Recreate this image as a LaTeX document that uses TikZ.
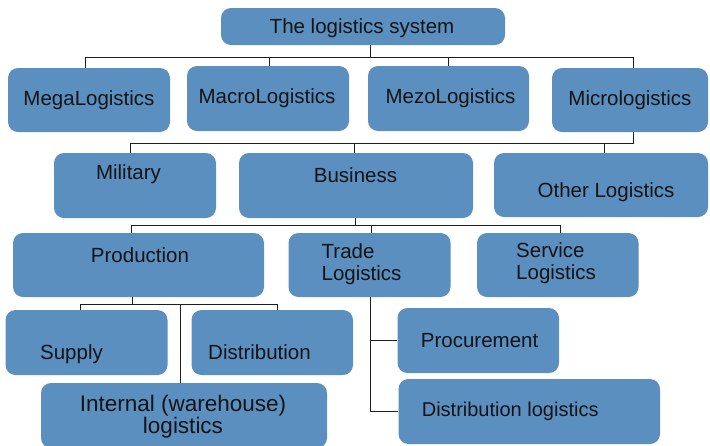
\documentclass[tikz,border=0pt]{standalone}
\usepackage{fontspec}
\setmainfont{Liberation Sans}
\usepackage{xcolor}
\usepackage{tikz}
\definecolor{boxblue}{RGB}{90,143,192}
\definecolor{textdark}{RGB}{20,20,20}
\definecolor{linedark}{RGB}{30,30,30}

\begin{document}
\begin{tikzpicture}[x=1pt,y=-1pt,
	box/.style={rectangle,fill=boxblue,rounded corners=10pt,inner sep=0pt},
	txt/.style={text=textdark,font=\fontsize{20.5}{22}\selectfont,inner sep=0pt,text height=14.5pt,text depth=4.5pt},
	txtm/.style={text=textdark,font=\fontsize{20.5}{22}\selectfont,inner sep=0pt},
	link/.style={draw=linedark,line width=1pt}]
	\useasboundingbox (0,0) rectangle (710,445);
	% the boxes
	\node[box,minimum width=284pt,minimum height=37pt] (System) at (363,26.5) {};
	\node[box,minimum width=162pt,minimum height=64pt] (Mega) at (89,100) {};
	\node[box,minimum width=162pt,minimum height=65pt] (Macro) at (268,98.5) {};
	\node[box,minimum width=161pt,minimum height=65pt] (Mezo) at (448.5,98.5) {};
	\node[box,minimum width=156pt,minimum height=64pt] (Micro) at (630,100) {};
	\node[box,minimum width=162pt,minimum height=65pt] (Military) at (135,185.5) {};
	\node[box,minimum width=234pt,minimum height=65pt] (Business) at (356,185.5) {};
	\node[box,minimum width=214pt,minimum height=64pt] (Other) at (601,185) {};
	\node[box,minimum width=251pt,minimum height=64pt] (Production) at (138.5,265) {};
	\node[box,minimum width=162pt,minimum height=64pt] (Trade) at (369.5,265) {};
	\node[box,minimum width=161.5pt,minimum height=64pt] (Service) at (557.75,265) {};
	\node[box,minimum width=162pt,minimum height=65pt] (Supply) at (86.5,342.5) {};
	\node[box,minimum width=161.5pt,minimum height=65pt] (Distribution) at (272.25,342.5) {};
	\node[box,minimum width=286pt,minimum height=65pt] (Internal) at (184,415.5) {};
	\node[box,minimum width=161.5pt,minimum height=65pt] (Procurement) at (478.25,340.5) {};
	\node[box,minimum width=261.5pt,minimum height=65pt] (DistLog) at (529.25,411.5) {};
	% the texts
	\node[txt] (SystemText) at (362,28) {The logistics system};
	\node[txt] (MegaText) at (89,100) {MegaLogistics};
	\node[txt] (MacroText) at (267,98) {MacroLogistics};
	\node[txt] (MezoText) at (450.5,98) {MezoLogistics};
	\node[txt] (MicroText) at (630,100) {Micrologistics};
	\node[txt] (MilitaryText) at (128.5,174) {Military};
	\node[txt] (BusinessText) at (355.5,177) {Business};
	\node[txt] (OtherText) at (606,192) {Other Logistics};
	\node[txt] (ProductionText) at (140,257) {Production};
	\node[txtm,align=left,anchor=west] (TradeText) at (321.5,264.5) {Trade\\Logistics};
	\node[txtm,align=left,anchor=west] (ServiceText) at (516,263) {Service\\Logistics};
	\node[txt] (SupplyText) at (71.5,354) {Supply};
	\node[txt] (DistributionText) at (259.5,354) {Distribution};
	\node[txtm,align=center,font=\fontsize{22.5}{22.5}\selectfont] (InternalText) at (183,416.5) {Internal (warehouse)\\logistics};
	\node[txt] (ProcurementText) at (479.6,342.7) {Procurement};
	\node[txt,font=\fontsize{20}{22}\selectfont] (DistLogText) at (510.2,411) {Distribution logistics};
	% draw the lines
	\coordinate (BusA) at (0,57);
	\coordinate (BusB) at (0,143);
	\coordinate (BusC) at (0,225);
	\coordinate (BusD) at (0,304);
	\draw[link] ([xshift=7.5]System.south) -- ([xshift=7.5]System.south |- BusA);
	\draw[link] ([xshift=-4]Mega.north) -- ([xshift=-4]Mega.north |- BusA) -- ([xshift=3]Micro.north |- BusA) -- ([xshift=3]Micro.north);
	\draw[link] ([xshift=1.5]Macro.north) -- ([xshift=1.5]Macro.north |- BusA);
	\draw[link] (Mezo.north) -- (Mezo.north |- BusA);
	\draw[link] ([xshift=3]Micro.south) -- ([xshift=3]Micro.south |- BusB) -- ([xshift=-5]Military.north |- BusB) -- ([xshift=-5]Military.north);
	\draw[link] ([xshift=-1.5]Business.north) -- ([xshift=-1.5]Business.north |- BusB);
	\draw[link] ([xshift=3]Other.north) -- ([xshift=3]Other.north |- BusB);
	\draw[link] ([xshift=-1]Business.south) -- ([xshift=-1]Business.south |- BusC);
	\draw[link] ([xshift=-7.5]Production.north) -- ([xshift=-7.5]Production.north |- BusC) -- ([xshift=3]Service.north |- BusC) -- ([xshift=3]Service.north);
	\draw[link] ([xshift=1.5]Trade.north) -- ([xshift=1.5]Trade.north |- BusC);
	\draw[link] ([xshift=-6.5]Production.south) -- ([xshift=-6.5]Production.south |- BusD);
	\draw[link] ([xshift=-6]Supply.north) -- ([xshift=-6]Supply.north |- BusD) -- ([xshift=5]Distribution.north |- BusD) -- ([xshift=5]Distribution.north);
	\draw[link] ([xshift=-3.5]Internal.north) -- ([xshift=-3.5]Internal.north |- BusD);
	\draw[link] ([xshift=0.5]Trade.south) |- (DistLog.west);
	\draw[link] ([xshift=0.5]Trade.south |- Procurement.west) -- (Procurement.west);
\end{tikzpicture}
\end{document}
